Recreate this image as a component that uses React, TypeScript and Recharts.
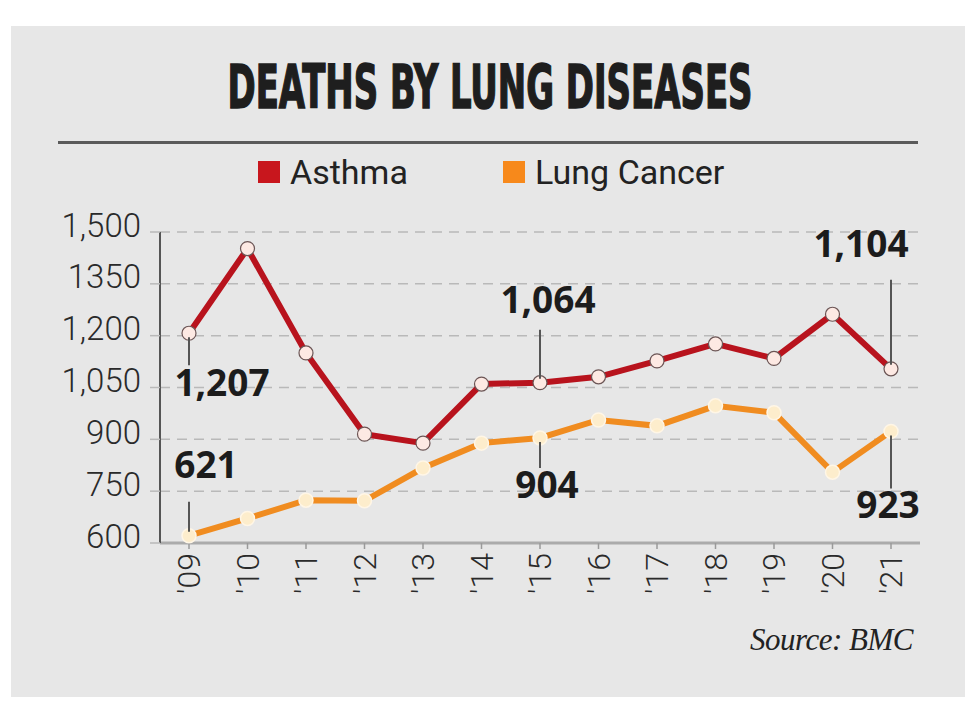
import React from "react";
import {
  LineChart,
  Line,
  XAxis,
  YAxis,
  CartesianGrid,
  Legend,
} from "recharts";

const years = ["'09", "'10", "'11", "'12", "'13", "'14", "'15", "'16", "'17", "'18", "'19", "'20", "'21"];
const asthma = [1207, 1452, 1150, 915, 889, 1060, 1064, 1081, 1127, 1176, 1134, 1262, 1104];
const lungCancer = [621, 671, 724, 722, 817, 889, 904, 956, 939, 997, 977, 805, 923];
const yTicks = [600, 750, 900, 1050, 1200, 1350, 1500];
const yTickLabels = ["600", "750", "900", "1,050", "1,200", "1350", "1,500"];

const data = years.map((y, i) => ({ year: y, asthma: asthma[i], lungCancer: lungCancer[i] }));

// annotation styling (offsets in px relative to the dot)
const asthmaAnno: Record<number, { text: string; dx: number; ty: number; l1: number; l2: number }> = {
  0: { text: "1,207", dx: 33, ty: 63, l1: 4, l2: 32 },
  6: { text: "1,064", dx: 8, ty: -70, l1: -4, l2: -53 },
  12: { text: "1,104", dx: -30, ty: -112, l1: -4, l2: -89 },
};
const cancerAnno: Record<number, { text: string; dx: number; ty: number; l1: number; l2: number }> = {
  0: { text: "621", dx: 17, ty: -58, l1: -4, l2: -34 },
  6: { text: "904", dx: 7, ty: 60, l1: 4, l2: 30 },
  12: { text: "923", dx: -3, ty: 87, l1: 4, l2: 57 },
};

const RED = "#b8131d";
const ORANGE = "#f08c20";

const makeLabel = (anno: typeof asthmaAnno) => (p: any) => {
  const a = anno[p.index];
  if (!a) return <g key={`n${p.index}`} />;
  const { x, y } = p;
  return (
    <g key={`a${p.index}`}>
      <line x1={x} x2={x} y1={y + a.l1} y2={y + a.l2} stroke="#555" strokeWidth={2} />
      <text
        x={x + a.dx}
        y={y + a.ty}
        textAnchor="middle"
        fontFamily="'Open Sans', sans-serif"
        fontWeight={700}
        fontSize={37}
        fill="#1c1c1c"
      >
        {a.text}
      </text>
    </g>
  );
};

const XTick = (p: any) => {
  const { x, y, payload } = p;
  return (
    <text
      x={x}
      y={y}
      transform={`rotate(-90, ${x}, ${y})`}
      textAnchor="end"
      dominantBaseline="central"
      fontFamily="Roboto, sans-serif"
      fontWeight={300}
      fontSize={32}
      fill="#2a2a2a"
    >
      {payload.value}
    </text>
  );
};

const YTick = (p: any) => {
  const { x, y, payload } = p;
  const idx = yTicks.indexOf(payload.value);
  return (
    <text
      x={x}
      y={y - 7}
      textAnchor="end"
      dominantBaseline="central"
      fontFamily="Roboto, sans-serif"
      fontWeight={300}
      fontSize={33}
      fill="#2a2a2a"
    >
      {idx >= 0 ? yTickLabels[idx] : payload.value}
    </text>
  );
};

const LegendContent = (p: any) => {
  const items = p.payload || [];
  return (
    <div style={{ position: "relative", width: 968, height: 40 }}>
      {items.map((it: any, i: number) => (
        <div
          key={i}
          style={{
            position: "absolute",
            left: i === 0 ? 258 : 503,
            top: 0,
            display: "flex",
            alignItems: "center",
          }}
        >
          <div style={{ width: 22, height: 22, background: i === 0 ? "#c8161d" : "#f7891b", marginRight: 10 }} />
          <span
            style={{
              fontFamily: "Roboto, sans-serif",
              fontSize: 34,
              color: "#222",
              lineHeight: "34px",
              whiteSpace: "nowrap",
            }}
          >
            {it.value}
          </span>
        </div>
      ))}
    </div>
  );
};

export default function App() {
  return (
    <div
      style={{
        position: "absolute",
        left: 0,
        top: 0,
        width: 968,
        height: 726,
        background: "#ffffff",
        overflow: "hidden",
      }}
    >
      <div
        style={{
          position: "absolute",
          left: 11,
          top: 26,
          width: 954,
          height: 671,
          background: "#e7e7e7",
        }}
      />
      <svg style={{ position: "absolute", left: 0, top: 0 }} width={968} height={160}>
        <text
          x={490}
          y={108}
          textAnchor="middle"
          textLength={525}
          lengthAdjust="spacingAndGlyphs"
          fontFamily="'Liberation Sans Narrow', 'DejaVu Sans Condensed', sans-serif"
          fontWeight={700}
          fontSize={60}
          fill="#1e1e1e"
          stroke="#1e1e1e"
          strokeWidth={1.6}
        >
          DEATHS BY LUNG DISEASES
        </text>
        <rect x={58} y={141} width={860} height={3} fill="#5a5a5a" />
      </svg>
      <div style={{ position: "absolute", left: 0, top: 0 }}>
        <LineChart
          width={968}
          height={726}
          data={data}
          margin={{ top: 192, right: 48, bottom: 123, left: 10 }}
        >
          <CartesianGrid
            horizontal
            vertical={false}
            stroke="#b9b9b9"
            strokeDasharray="10 7"
            strokeWidth={1.5}
          />
          <XAxis
            dataKey="year"
            padding={{ left: 29, right: 29 }}
            axisLine={{ stroke: "#ababab", strokeWidth: 3 }}
            tickLine={{ stroke: "#9a9a9a", strokeWidth: 1.5 }}
            tickSize={6}
            tickMargin={4}
            height={60}
            interval={0}
            tick={<XTick />}
          />
          <YAxis
            domain={[600, 1500]}
            ticks={yTicks}
            width={150}
            axisLine={{ stroke: "#555", strokeWidth: 2 }}
            tickLine={{ stroke: "#b9b9b9", strokeWidth: 1.5 }}
            tickSize={10}
            tickMargin={9}
            interval={0}
            tick={<YTick />}
          />
          <Legend
            verticalAlign="top"
            content={<LegendContent />}
            wrapperStyle={{ position: "absolute", top: 155, left: 0, width: 968 }}
          />
          <Line
            name="Asthma"
            dataKey="asthma"
            stroke={RED}
            strokeWidth={6}
            isAnimationActive={false}
            dot={{ r: 7, fill: "#fde9e3", stroke: "#6b5555", strokeWidth: 1.2 }}
            label={makeLabel(asthmaAnno)}
          />
          <Line
            name="Lung Cancer"
            dataKey="lungCancer"
            stroke={ORANGE}
            strokeWidth={6}
            isAnimationActive={false}
            dot={{ r: 7, fill: "#fdedcc", stroke: "#fff6e6", strokeWidth: 1.5 }}
            label={makeLabel(cancerAnno)}
          />
        </LineChart>
      </div>
      <div
        style={{
          position: "absolute",
          right: 968 - 913,
          top: 622,
          fontFamily: "'Liberation Serif', serif",
          fontStyle: "italic",
          fontSize: 31,
          color: "#222",
          whiteSpace: "nowrap",
          letterSpacing: -0.5,
        }}
      >
        Source: BMC
      </div>
    </div>
  );
}
